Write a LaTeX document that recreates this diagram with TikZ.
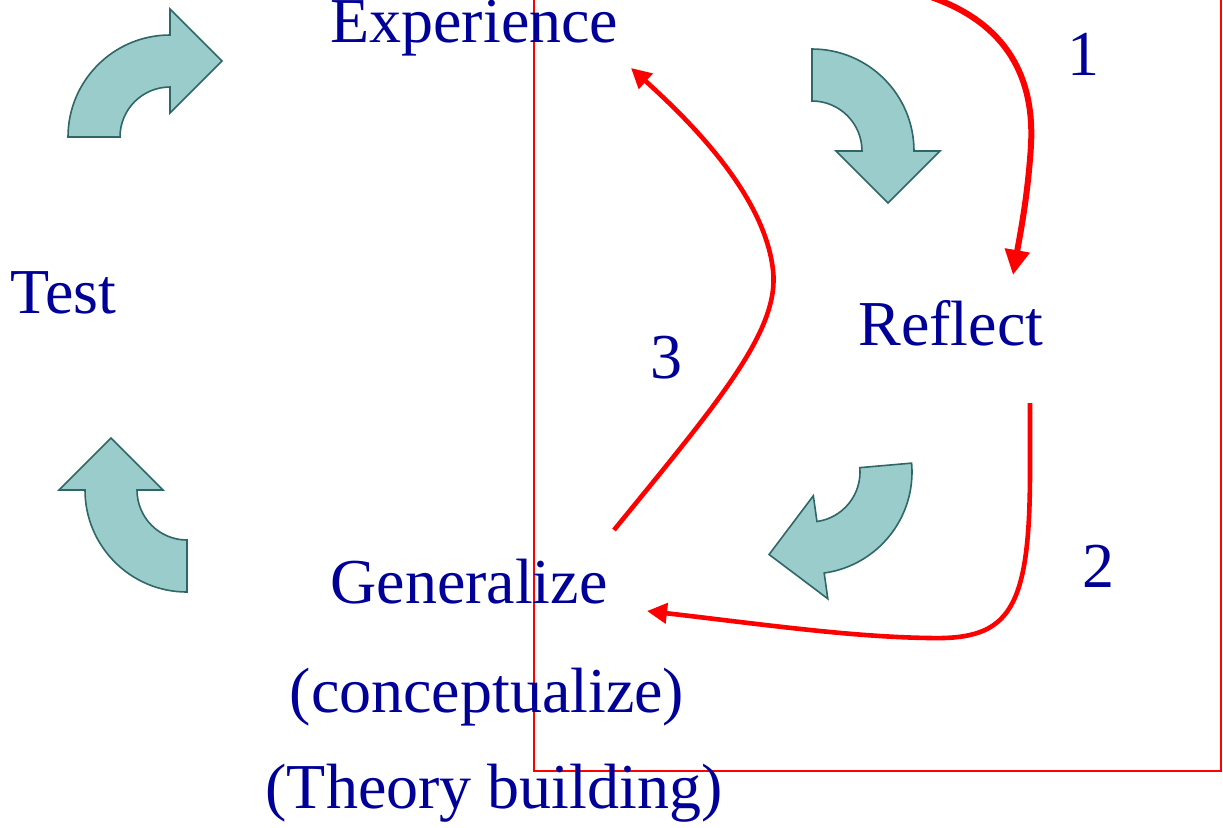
\documentclass[tikz,border=0pt]{standalone}
\usepackage{fontspec}
\setmainfont{Liberation Serif}
\usetikzlibrary{arrows.meta}
\definecolor{txtblue}{RGB}{0,0,153}
\definecolor{tealfill}{RGB}{155,204,204}
\definecolor{tealline}{RGB}{47,102,102}
\tikzset{
  lbl/.style={anchor=base west, inner sep=0pt, text=txtblue, font=\fontsize{32}{38}\selectfont},
  blockarrow/.style={fill=tealfill, draw=tealline, line width=0.8pt, line join=miter},
  redthick/.style={draw=red, line width=3pt, -{Triangle[length=12.5pt,width=12pt]}},
  redthin/.style={draw=red, line width=2.3pt, -{Triangle[length=10pt,width=10pt]}},
}
\newcommand\curvarrow[4]{%
  \draw[blockarrow] (#1,#2) ++(#3:102) arc[start angle=#3, end angle=#4, radius=102]
    -- ++(#4:26) -- ++(#4+135:73.54) -- ++(#4-135:73.54) -- ++(#4:26)
    arc[start angle=#4, end angle=#3, radius=50] -- cycle;}
\begin{document}
\begin{tikzpicture}[x=0.5pt, y=-0.5pt]
\useasboundingbox (0,0) rectangle (1223,827);
\clip (0,0) rectangle (1223,827);
% red frame
\draw[red, line width=0.9pt] (534,-10) rectangle (1221,771);
% block arrows
\curvarrow{170}{137}{180}{270}
\curvarrow{812}{151}{270}{360}
\curvarrow{810}{472}{-5}{82}
\curvarrow{187}{490}{90}{180}
% labels
\node[lbl] (exp) at (330,42) {Experience};
\node[lbl] (refl) at (858,345) {Reflect};
\node[lbl] (test) at (10,313) {Test};
\node[lbl] (gen) at (330,603) {Generalize};
\node[lbl, anchor=base] (conc) at (487,712) {(conceptualize)};
\node[lbl, anchor=base] (theo) at (494,808) {(Theory building)};
\node[lbl] (n1) at (1067,75) {1};
\node[lbl] (n2) at (1082,587) {2};
\node[lbl] (n3) at (650,378) {3};
% red curved arrows
\coordinate (a1s) at (928,-4);
\coordinate (a1e) at (1013,275);
\coordinate (a2s) at (1030,403);
\coordinate (a2e) at (647,611);
\coordinate (a3s) at (614,530);
\coordinate (a3e) at (631,68);
\draw[redthick] (a1s) .. controls (1000,20) and (1035,70) .. (1031,145)
   .. controls (1028,195) and (1020,235) .. (a1e);
\draw[redthin] (a2s) -- (1030,470) .. controls (1030,610) and (1010,640) .. (930,638)
   .. controls (850,637) and (760,624) .. (a2e);
\draw[redthin] (a3s) .. controls (720,400) and (780,330) .. (773,270)
   .. controls (765,200) and (700,130) .. (a3e);
\end{tikzpicture}
\end{document}
